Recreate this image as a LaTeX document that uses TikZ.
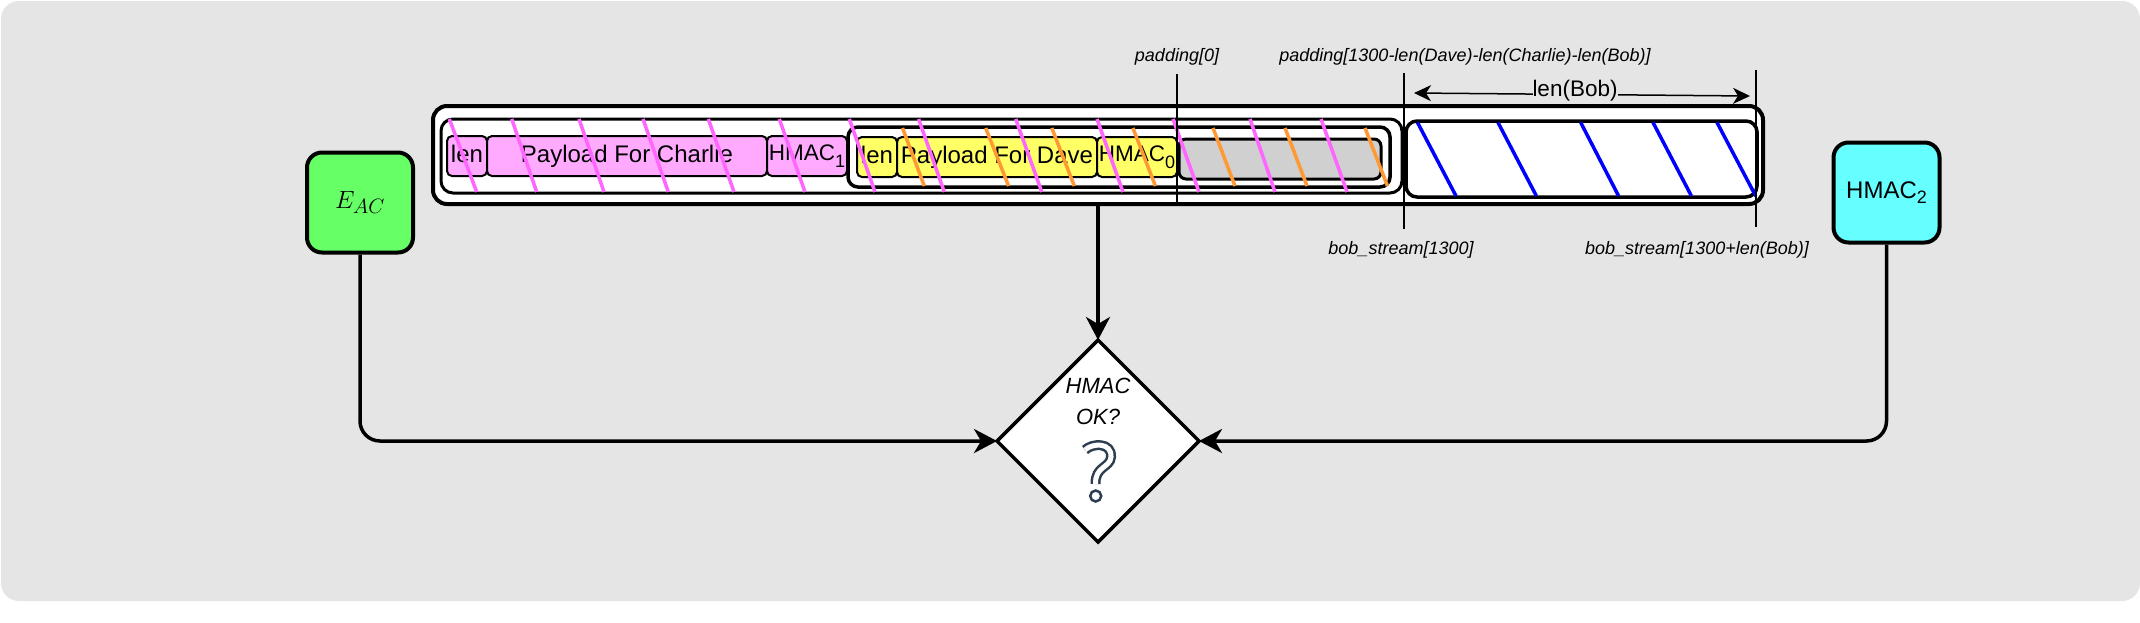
\documentclass[tikz,border=0pt]{standalone}
\usepackage{fontspec}
\setmainfont{Liberation Sans}
\usepackage{tikz}
\usetikzlibrary{arrows.meta}
\usetikzlibrary{shapes.geometric, positioning}
\definecolor{panelgrey}{HTML}{E5E5E5}
\definecolor{padgrey}{HTML}{D0D0D0}
\definecolor{mag}{HTML}{FF66FF}
\definecolor{cellmag}{HTML}{FFAAFF}
\definecolor{cellyel}{HTML}{FFFF66}
\definecolor{org}{HTML}{FF9933}
\definecolor{keygreen}{HTML}{66FF66}
\definecolor{keycyan}{HTML}{66FFFF}
\definecolor{iconslate}{HTML}{2C3E50}
\newcommand{\fsz}[1]{\fontsize{#1}{#1}\selectfont}
\newcommand{\subd}[1]{\raisebox{-5pt}{\fsz{18}#1}}
\tikzset{
	frame/.style={draw=black, fill=white, rounded corners=#1, inner sep=0pt},
	cell/.style={draw=black, line width=2pt, rounded corners=5pt, inner sep=0pt, minimum height=40pt, font=\fsz{24}, text height=17pt, text depth=4.5pt},
	keybox/.style={draw=black, line width=4pt, rounded corners=15pt, inner sep=0pt, minimum width=106pt, minimum height=100pt},
	tag/.style={font=\fsz{18}\itshape, inner sep=0pt},
	mark line/.style={line width=1.5pt},
	big/.style={line width=3.5pt, -{Stealth[length=23pt, width=24pt, inset=7pt]}},
}

\begin{document}
\begin{tikzpicture}[x=1pt, y=-1pt]
	\useasboundingbox (0, 0) rectangle (2140, 622);
	\node [fill=panelgrey, rounded corners=18pt, minimum width=2139pt, minimum height=600pt, inner sep=0pt] (panel) at (1070.5, 301) {};

	\node [frame=14pt, line width=4pt, minimum width=1330pt, minimum height=98pt] (outer) at (1098, 155) {};
	\node [frame=12pt, line width=3pt, minimum width=961pt, minimum height=74pt] (charlie) at (921.5, 156) {};
	\node [frame=10pt, line width=3.5pt, minimum width=542pt, minimum height=60pt] (dave) at (1119, 157) {};
	\node [frame=11pt, line width=3.5pt, minimum width=351pt, minimum height=76pt] (bob) at (1581.5, 159) {};
	\node [draw=black, fill=padgrey, rounded corners=7pt, line width=3pt, inner sep=0pt, minimum width=202pt, minimum height=40pt] (pad) at (1280, 159) {};

	\node [cell, fill=cellmag, minimum width=40pt] (clen) at (467, 156) {len};
	\node [cell, fill=cellmag, minimum width=280pt] (cpay) at (627, 156) {Payload For Charlie};
	\node [cell, fill=cellmag, minimum width=80pt] (chmac) at (807, 156) {\fsz{22.5}\raisebox{1.5pt}{HMAC}\subd{1}};
	\node [cell, fill=cellyel, minimum width=40pt] (dlen) at (877, 157) {len};
	\node [cell, fill=cellyel, minimum width=200pt] (dpay) at (997, 157) {Payload For Dave};
	\node [cell, fill=cellyel, minimum width=80pt] (dhmac) at (1137, 157) {\fsz{22.5}\raisebox{1.5pt}{HMAC}\subd{0}};

	\foreach \xa/\xb in {449.3/476.7, 511.7/536.7, 579/604, 643/668.3, 708.3/734, 779.3/805, 849.3/875, 918.6/944.3, 1015.7/1041.8, 1097/1123, 1173/1199, 1250/1275, 1321/1347}
		\draw (\xa, 119)--(\xb, 192) [mag, line width=3.5pt];
	\foreach \xa/\xb in {902.5/924.3, 985.7/1008.6, 1051.8/1074.3, 1132.9/1155.4, 1213/1235, 1285/1307, 1365/1387.5}
		\draw (\xa, 128)--(\xb, 186) [org, line width=3.5pt];
	\foreach \xa/\xb in {1417.5/1456, 1498/1536.4, 1580.7/1618.6, 1653/1691.4, 1717/1755.7}
		\draw (\xa, 122.5)--(\xb, 196) [blue, line width=3.5pt];

	\node [tag] (pad0lab) at (1177, 57) {padding[0]};
	\node [tag] (padendlab) at (1465, 57) {padding[1300-len(Dave)-len(Charlie)-len(Bob)]};
	\node [tag] (bobalab) at (1401, 249.5) {bob\_stream[1300]};
	\node [tag] (bobblab) at (1697, 249.5) {bob\_stream[1300+len(Bob)]};

	\coordinate (pad0a) at (1177, 74);
	\coordinate (pad0b) at (1177, 202);
	\coordinate (boba) at (1404, 73);
	\coordinate (bobb) at (1404, 229);
	\coordinate (endera) at (1756, 70);
	\coordinate (enderb) at (1756, 227);
	\draw (pad0a)--(pad0b) [mark line];
	\draw (boba)--(bobb) [mark line];
	\draw (endera)--(enderb) [mark line];

	\coordinate (lena) at (1414, 93);
	\coordinate (lenb) at (1750, 96);
	\draw [mark line, {Stealth[length=17pt, width=16pt, inset=5pt]}-{Stealth[length=17pt, width=16pt, inset=5pt]}] (lena)-- node [fill=panelgrey, inner sep=0pt, xshift=-7pt, yshift=4pt, font=\fsz{22.5}] (lenlab) {len(Bob)} (lenb);

	\node [keybox, fill=keygreen] (eac) at (360, 202.5) {\fsz{31}$E_{AC}$};
	\node [keybox, fill=keycyan] (hmactwo) at (1886.5, 192.5) {\fsz{24}HMAC\subd{2}};

	\node [diamond, draw=black, fill=white, line width=3.5pt, aspect=1, inner sep=0pt, outer sep=0pt, minimum width=202pt, minimum height=202pt] (hmacok) at (1098, 441) {};
	\node [font=\fsz{22}\itshape, inner sep=0pt] (oklabb) at (1098, 386) {HMAC};
	\node [font=\fsz{22}\itshape, inner sep=0pt] (oklabc) at (1098, 417) {OK?};
	\draw [iconslate, line width=2.5pt, double=white, double distance=5pt, line cap=butt] (1085, 450) .. controls (1092, 443) and (1112, 442) .. (1111, 457) .. controls (1110, 468) and (1095, 466) .. (1095.5, 484);
	\draw (1095.7, 496) circle (5.5) [iconslate, line width=2.5pt, fill=white];

	\draw [big] (hmacok.north |- outer.south)--(hmacok.north);
	\draw [big, rounded corners=20pt] (eac.south) |- (hmacok.west);
	\draw [big, rounded corners=20pt] (hmactwo.south) |- (hmacok.east);
\end{tikzpicture}
\end{document}
